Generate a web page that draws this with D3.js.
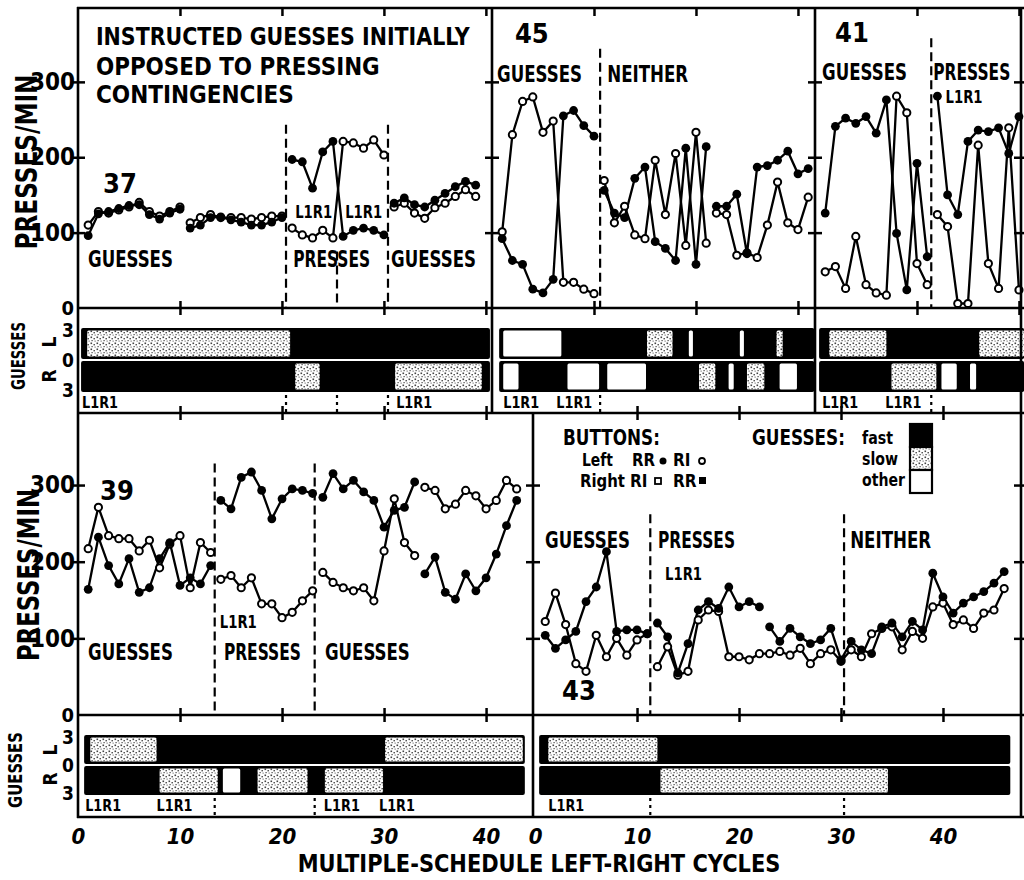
<!DOCTYPE html>
<html><head><meta charset="utf-8">
<script src="https://cdn.jsdelivr.net/npm/d3@7"></script>
<style>
  body { margin: 0; background: #fff; }
  text { font-family: 'Liberation Sans Narrow', 'DejaVu Sans Condensed', 'Liberation Sans', sans-serif; font-weight: bold; fill: #000; }
</style></head>
<body>
<svg id="fig_guesses" width="1024" height="880"></svg>
<script>
// presses/min per cycle: [first cycle, values...] segments, left and right buttons
var p37Left  = [[1, [96,125,128,132,136,137,124,118,126,131]],
                [11, [106,110,120,121,117,114,110,110,114,120]],
                [21, [197,194,159,207,221,95,103,106,103,97]],
                [31, [139,146,137,134,143,152,161,168,163]]];
var p37Right = [[1, [110,128,126,130,134,140,128,122,128,134]],
                [11, [113,120,124,120,120,120,118,120,122,122]],
                [21, [106,97,93,103,93,221,219,212,223,203]],
                [31, [134,139,126,119,133,139,148,157,148]]];
var p45Left  = [[1, [92,63,58,25,20,38,255,262,242,228]],
                [11, [156,126,120,172,187,88,79,63,212,58,214]],
                [22, [135,135,151,72,187,189,196,208,178,185]]];
var p45Right = [[1, [101,230,274,280,233,248,34,34,25,19]],
                [11, [169,113,135,97,92,196,124,205,83,233,86]],
                [22, [126,124,70,73,67,110,167,113,104,147]]];
var p41Left  = [[1, [126,241,252,245,254,232,276,99,24,192,68]],
                [12, [281,150,124,221,236,234,239,205,254]]];
var p41Right = [[1, [48,55,26,95,31,20,17,281,259,59,31]],
                [12, [124,108,6,6,216,59,26,239,24]]];
var p39Left  = [[1, [164,232,195,171,204,160,166,204,225,169,179,171,195]],
                [14, [280,269,310,317,293,256,282,295,293,289]],
                [24, [284,315,295,306,291,280,245,267,271,304]],
                [34, [184,206,160,151,184,162,179,210,247,280]]];
var p39Right = [[1, [217,271,234,230,230,214,228,192,223,234,166,225,212]],
                [14, [177,182,166,179,145,145,127,134,149,162]],
                [24, [186,173,166,162,166,149,214,282,225,208]],
                [34, [297,293,269,275,293,286,269,280,306,295]]];
var p43Left  = [[1, [104,87,98,109,148,167,213,109,111,111,106]],
                [12, [120,102,55,93,137,148,139,167,141,148,141]],
                [23, [115,96,113,102,93,98,113,72,96,85,80,115,120,102,122,111,185,154,133,146,154,161,172,187]]];
var p43Right = [[1, [122,159,118,67,57,104,76,100,78,98,106]],
                [12, [63,89,52,57,124,137,135,76,76,72,80,80,83,78,87,67,80,85,70,85,76,106,113,115,85,109,100,141,146,118,124,113,133,137,165]]];

// guess strips: bar extent (cycles) and non-fast stretches [from, to, kind]
var p37Bar = [0.3, 40.4];
var p37GuessL = [[0.9, 20.8, "slow"]];
var p37GuessR = [[21.3, 23.7, "slow"], [31.1, 39.6, "slow"]];
var p45Bar = [0.7, 31.6];
var p45GuessL = [[1.1, 6.8, "other"], [15.2, 17.7, "slow"], [19.3, 19.7, "other"], [24.3, 24.7, "other"], [27.9, 28.5, "slow"]];
var p45GuessR = [[1.1, 2.6, "other"], [7.4, 10.5, "other"], [11.3, 15.1, "other"], [20.3, 21.9, "slow"], [23.2, 23.7, "other"], [25.0, 26.7, "slow"], [28.2, 29.9, "other"]];
var p41Bar = [0.4, 20.5];
var p41GuessL = [[1.4, 7.0, "slow"], [16.1, 20.5, "slow"]];
var p41GuessR = [[7.5, 11.9, "slow"], [12.4, 13.9, "other"], [15.2, 15.8, "other"]];
var p39Bar = [0.6, 43.8];
var p39GuessL = [[1.2, 7.7, "slow"], [30.1, 43.6, "slow"]];
var p39GuessR = [[8.0, 13.7, "slow"], [14.2, 15.9, "other"], [17.6, 22.5, "slow"], [24.2, 29.9, "slow"]];
var p43Bar = [0.4, 46.6];
var p43GuessL = [[1.3, 12.0, "slow"]];
var p43GuessR = [[12.3, 34.6, "slow"]];

// condition changes [cycle, top of dashed line], L1R1 markers (cycles)
var p37Phases = [[20.4, 243], [25.4, 75], [30.4, 243]];
var p45Phases = [[10.6, 344]];
var p41Phases = [[11.4, 358]];
var p39Phases = [[13.4, 328], [23.2, 328]];
var p43Phases = [[11.3, 262], [30.3, 262]];
var p37Liri = [0.4, 31.2];
var p45Liri = [1.1, 6.3];
var p41Liri = [0.7, 6.9];
var p39Liri = [0.7, 7.7, 24.1, 29.5];
var p43Liri = [1.3];

// labels inside panels: [text, cycle, presses/min, kind]
var p37Notes = [["INSTRUCTED GUESSES INITIALLY", 1.76, 349, "title"], ["OPPOSED TO PRESSING", 1.76, 309, "title"],
                ["CONTINGENCIES", 1.76, 272, "title"], ["37", 2.45, 153, "num"], ["GUESSES", 0.98, 54, "phase"],
                ["L1R1", 21.3, 120, "small"], ["L1R1", 26.2, 120, "small"], ["PRESSES", 21.1, 54, "phase"], ["GUESSES", 30.7, 54, "phase"]];
var p45Notes = [["45", 2.25, 351, "num"], ["GUESSES", 0.5, 300, "phase"], ["NEITHER", 11.3, 300, "phase"]];
var p41Notes = [["41", 1.96, 353, "num"], ["GUESSES", 0.69, 303, "phase"], ["PRESSES", 11.6, 303, "phase"], ["L1R1", 12.8, 272, "small"]];
var p39Notes = [["39", 2.16, 280, "num"], ["GUESSES", 0.98, 72, "phase"], ["L1R1", 13.9, 113, "small"], ["PRESSES", 14.3, 72, "phase"], ["GUESSES", 24.2, 72, "phase"]];
var p43Notes = [["GUESSES", 0.98, 218, "phase"], ["PRESSES", 12.06, 218, "phase"], ["L1R1", 12.75, 176, "small"], ["NEITHER", 30.9, 218, "phase"], ["43", 2.65, 20, "num"]];

var yTicks = [100, 200, 300];
var xLabels = [0, 10, 20, 30, 40];

(function fig_guesses() {
  var svg = d3.select("#fig_guesses");
  svg.append("rect").attr("width", 1024).attr("height", 880).attr("fill", "#fff");

  // stipple for "slow" guesses
  var pat = svg.append("defs").append("pattern").attr("id", "stip")
      .attr("width", 6).attr("height", 6).attr("patternUnits", "userSpaceOnUse");
  pat.append("rect").attr("width", 6).attr("height", 6).attr("fill", "#fff");
  [[0.5, 0.5, 1.6], [3.5, 2, 1.4], [1.5, 4, 1.2], [4.6, 4.6, 1]].forEach(function(d) {
    pat.append("rect").attr("x", d[0]).attr("y", d[1]).attr("width", d[2]).attr("height", d[2]).attr("fill", "#444");
  });

  // squeeze a text horizontally to a given width (condensed lettering of the original)
  function fitText(parent, x, y, txt, size, width, rotate, anchor) {
    var t = parent.append("text").attr("font-size", size).attr("text-anchor", anchor || "start").text(txt);
    var k = Math.min(1, width / t.node().getComputedTextLength());
    t.attr("transform", "translate(" + x + "," + y + ")" + (rotate ? " rotate(-90)" : "") + " scale(" + k + ",1)");
    return t;
  }

  var yTop = d3.scaleLinear().domain([0, 398]).range([308, 8]),
      yBot = d3.scaleLinear().domain([0, 394]).range([715, 413]),
      gTop = d3.scaleLinear().domain([-3, 3]).range([392, 328]),
      gBot = d3.scaleLinear().domain([-3, 3]).range([795, 735]);

  var panels = [
    {x: d3.scaleLinear().domain([0, 40.6]).range([78, 492]), y: yTop, g: gTop, left: p37Left, right: p37Right,
     bar: p37Bar, gl: p37GuessL, gr: p37GuessR, phases: p37Phases, liri: p37Liri, notes: p37Notes, ticks: [10, 20, 30, 40]},
    {x: d3.scaleLinear().domain([0, 31.67]).range([492, 815]), y: yTop, g: gTop, left: p45Left, right: p45Right,
     bar: p45Bar, gl: p45GuessL, gr: p45GuessR, phases: p45Phases, liri: p45Liri, notes: p45Notes, ticks: [10, 20, 30]},
    {x: d3.scaleLinear().domain([0, 20.2]).range([815, 1021]), y: yTop, g: gTop, left: p41Left, right: p41Right,
     bar: p41Bar, gl: p41GuessL, gr: p41GuessR, phases: p41Phases, liri: p41Liri, notes: p41Notes, ticks: [10, 20]},
    {x: d3.scaleLinear().domain([0, 44.6]).range([78, 533]), y: yBot, g: gBot, left: p39Left, right: p39Right,
     bar: p39Bar, gl: p39GuessL, gr: p39GuessR, phases: p39Phases, liri: p39Liri, notes: p39Notes, ticks: [10, 20, 30, 40], bottom: true},
    {x: d3.scaleLinear().domain([-0.2, 47.65]).range([533, 1021]), y: yBot, g: gBot, left: p43Left, right: p43Right,
     bar: p43Bar, gl: p43GuessL, gr: p43GuessR, phases: p43Phases, liri: p43Liri, notes: p43Notes, ticks: [10, 20, 30, 40], bottom: true}
  ];

  var noteSize = {title: 24, phase: 23, num: 27, small: 17};
  var noteWidth = {"INSTRUCTED GUESSES INITIALLY": 374, "OPPOSED TO PRESSING": 284, "CONTINGENCIES": 200,
                   "GUESSES": 85, "PRESSES": 77, "NEITHER": 81, "L1R1": 37};

  function pts(seg) { return seg[1].map(function(v, i) { return [seg[0] + i, v]; }); }
  function bare(a) { a.select(".domain").remove(); a.selectAll("text").remove(); }

  panels.forEach(function(p) {
    var g = svg.append("g");

    // guess strip
    [[3, p.gl], [-3, p.gr]].forEach(function(row) {
      var a = p.g(0) + (row[0] > 0 ? -1 : 1), b = p.g(row[0]),
          top = Math.min(a, b), h = Math.abs(b - a);
      g.append("rect").attr("x", p.x(p.bar[0])).attr("width", p.x(p.bar[1]) - p.x(p.bar[0]))
          .attr("y", top).attr("height", h).attr("rx", 2).attr("fill", "#000");
      g.selectAll(null).data(row[1]).enter().append("rect")
          .attr("x", function(d) { return p.x(d[0]); })
          .attr("width", function(d) { return p.x(d[1]) - p.x(d[0]); })
          .attr("y", top + 2.5).attr("height", h - 5).attr("rx", 1.5)
          .attr("fill", function(d) { return d[2] === "slow" ? "url(#stip)" : "#fff"; });
    });
    p.liri.forEach(function(c) { fitText(g, p.x(c), p.g(-3) + 16, "L1R1", 16, 36); });

    // condition changes
    g.selectAll(null).data(p.phases).enter().append("line")
        .attr("x1", function(d) { return p.x(d[0]); }).attr("x2", function(d) { return p.x(d[0]); })
        .attr("y1", function(d) { return p.y(d[1]); }).attr("y2", p.y(0))
        .attr("stroke", "#000").attr("stroke-width", 2.2).attr("stroke-dasharray", "9,5");
    g.selectAll(null).data(p.phases).enter().append("line")
        .attr("x1", function(d) { return p.x(d[0]); }).attr("x2", function(d) { return p.x(d[0]); })
        .attr("y1", p.g(-3) + 3).attr("y2", p.g(-3) + 20)
        .attr("stroke", "#000").attr("stroke-width", 2.2).attr("stroke-dasharray", "3,4");

    // rate lines
    var line = d3.line().x(function(d) { return p.x(d[0]); }).y(function(d) { return p.y(d[1]); });
    [p.left, p.right].forEach(function(series) {
      series.forEach(function(seg) {
        g.append("path").datum(pts(seg)).attr("d", line)
            .attr("fill", "none").attr("stroke", "#000").attr("stroke-width", 2.3);
      });
    });
    p.right.forEach(function(seg) {
      g.selectAll(null).data(pts(seg)).enter().append("circle")
          .attr("cx", function(d) { return p.x(d[0]); }).attr("cy", function(d) { return p.y(d[1]); })
          .attr("r", 3.6).attr("fill", "#fff").attr("stroke", "#000").attr("stroke-width", 2);
    });
    p.left.forEach(function(seg) {
      g.selectAll(null).data(pts(seg)).enter().append("circle")
          .attr("cx", function(d) { return p.x(d[0]); }).attr("cy", function(d) { return p.y(d[1]); })
          .attr("r", 4.4).attr("fill", "#000");
    });

    // labels
    p.notes.forEach(function(d) {
      fitText(g, p.x(d[1]), p.y(d[2]), d[0], noteSize[d[3]], noteWidth[d[0]] || 999);
    });

    // x ticks
    var axisY = p.bottom ? [p.y.range()[1] - 7, p.y(0) - 7] : [p.y(0) - 7];
    axisY.forEach(function(yy) {
      svg.append("g").attr("transform", "translate(0," + yy + ")").attr("stroke-width", 2.5)
          .call(d3.axisBottom(p.x).tickValues(p.ticks).tickSize(14)).call(bare);
    });
    if (!p.bottom) {
      svg.append("g").attr("transform", "translate(0," + p.y.range()[1] + ")").attr("stroke-width", 2.5)
          .call(d3.axisBottom(p.x).tickValues(p.ticks).tickSize(8)).call(bare);
    } else {
      svg.append("g").attr("transform", "translate(0,817)")
          .call(d3.axisBottom(p.x).tickValues(xLabels).tickSize(0).tickPadding(11))
          .call(function(a) { a.select(".domain").remove(); })
          .attr("font-size", 22).attr("font-style", "italic");
    }
  });

  // y ticks on the panel borders
  [[yTop, [78, 492, 815, 1021]], [yBot, [78, 533, 1021]]].forEach(function(r) {
    r[1].forEach(function(xx) {
      svg.append("g").attr("transform", "translate(" + (xx - 7) + ",0)").attr("stroke-width", 2.5)
          .call(d3.axisRight(r[0]).tickValues(yTicks).tickSize(14)).call(bare);
    });
    svg.append("g").attr("transform", "translate(76,0)")
        .call(d3.axisLeft(r[0]).tickValues(yTicks).tickSize(0).tickPadding(1))
        .call(function(a) { a.select(".domain").remove(); })
        .attr("font-size", 24);
    svg.append("g").attr("transform", "translate(76,0)")
        .call(d3.axisLeft(r[0]).tickValues([0]).tickSize(0).tickPadding(2))
        .call(function(a) { a.select(".domain").remove(); a.selectAll("text").attr("dy", "0.3em"); })
        .attr("font-size", 20);
  });
  [gTop, gBot].forEach(function(gs) {
    svg.append("g").attr("transform", "translate(76,0)")
        .call(d3.axisLeft(gs).tickValues([3, 0, -3]).tickSize(0).tickPadding(2)
          .tickFormat(function(d) { return Math.abs(d); }))
        .call(function(a) {
          a.select(".domain").remove();
          a.selectAll("text").attr("dy", function(d) { return d === 3 ? "0.45em" : (d === -3 ? "0.25em" : "0.32em"); });
        })
        .attr("font-size", 19);
  });

  // frame
  var frame = svg.append("g").attr("stroke", "#000").attr("stroke-width", 2.6);
  function hl(y, x1, x2) { frame.append("line").attr("x1", x1).attr("x2", x2).attr("y1", y).attr("y2", y); }
  function vl(x, y1, y2) { frame.append("line").attr("x1", x).attr("x2", x).attr("y1", y1).attr("y2", y2); }
  hl(yTop.range()[1], 77, 1024); hl(yTop(0), 77, 1024); hl(yBot.range()[1], 77, 1024);
  hl(yBot(0), 77, 1024); hl(817, 77, 1024);
  vl(78, 7, 818); vl(492, 7, 413); vl(815, 7, 413); vl(533, 413, 818); vl(1021, 7, 818);

  // axis titles
  fitText(svg, 37, 162, "PRESSES/MIN", 31, 175, true, "middle");
  fitText(svg, 39, 575, "PRESSES/MIN", 31, 172, true, "middle");
  fitText(svg, 25, 356, "GUESSES", 19, 68, true, "middle");
  fitText(svg, 22, 770, "GUESSES", 19, 76, true, "middle");
  fitText(svg, 56, 342, "L", 19, 12, true, "middle"); fitText(svg, 56, 376, "R", 19, 14, true, "middle");
  fitText(svg, 57, 750, "L", 19, 12, true, "middle"); fitText(svg, 57, 779, "R", 19, 14, true, "middle");
  fitText(svg, 539, 872, "MULTIPLE-SCHEDULE  LEFT-RIGHT  CYCLES", 25, 483, false, "middle");

  // legend
  var lg = svg.append("g");
  fitText(lg, 563, 445, "BUTTONS:", 22, 97);
  fitText(lg, 582, 466, "Left", 17, 31); fitText(lg, 632, 466, "RR", 17, 23); fitText(lg, 673, 466, "RI", 17, 18);
  fitText(lg, 580, 487, "Right", 17, 45); fitText(lg, 630, 487, "RI", 17, 18); fitText(lg, 673, 487, "RR", 17, 24);
  fitText(lg, 752, 445, "GUESSES:", 22, 93);
  fitText(lg, 862, 444, "fast", 17, 31); fitText(lg, 862, 465, "slow", 17, 36); fitText(lg, 862, 486, "other", 17, 43);
  lg.append("circle").attr("cx", 663).attr("cy", 461).attr("r", 3.5).attr("fill", "#000");
  lg.append("circle").attr("cx", 702).attr("cy", 461).attr("r", 3).attr("fill", "#fff").attr("stroke", "#000").attr("stroke-width", 1.8);
  lg.append("rect").attr("x", 655).attr("y", 478).attr("width", 6).attr("height", 6).attr("fill", "#fff").attr("stroke", "#000").attr("stroke-width", 1.8);
  lg.append("rect").attr("x", 699).attr("y", 477).attr("width", 7).attr("height", 7).attr("fill", "#000");
  [["#000", 424], ["url(#stip)", 447], ["#fff", 470]].forEach(function(b) {
    lg.append("rect").attr("x", 910).attr("y", b[1]).attr("width", 22).attr("height", 23)
        .attr("fill", b[0]).attr("stroke", "#000").attr("stroke-width", 2.2);
  });
})();
</script>
</body></html>
